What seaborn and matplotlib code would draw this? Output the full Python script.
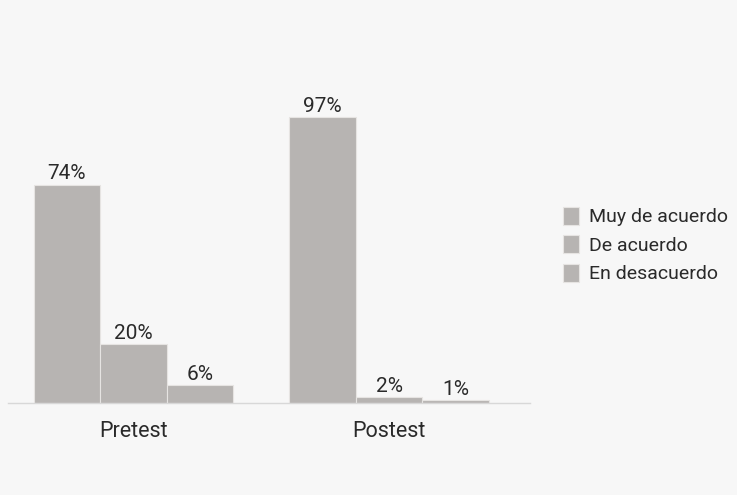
import numpy as np
import pandas as pd
import matplotlib
matplotlib.use('Agg')
import matplotlib.pyplot as plt
import seaborn as sns

# datos
grupos = ['Pretest', 'Postest']
respuestas = ['Muy de acuerdo', 'De acuerdo', 'En desacuerdo']
pretest = [74, 20, 6]
postest = [97, 2, 1]

df = pd.DataFrame({
    'grupo': ['Pretest'] * 3 + ['Postest'] * 3,
    'respuesta': respuestas * 2,
    'valor': pretest + postest,
})

sns.set_style('white')
plt.rcParams['font.family'] = ['Roboto', 'DejaVu Sans']

gris = '#b8b4b1'
fondo = '#f7f7f7'

fig = plt.figure(figsize=(7.37, 4.95), dpi=100, facecolor=fondo)
ax = fig.add_axes([0.011, 0.186, 0.708, 0.652])
ax.set_facecolor(fondo)

sns.barplot(data=df, x='grupo', y='valor', hue='respuesta', order=grupos,
            hue_order=respuestas, palette=[gris] * 3, width=0.78,
            edgecolor='#e6e4e2', linewidth=0.8, ax=ax)

for c in ax.containers:
    ax.bar_label(c, fmt='%g%%', padding=1, fontsize=15, color='#2a2a2a')

ax.set_xlim(-0.49, 1.55)
ax.set_ylim(0, 109.5)
ax.set_xlabel('')
ax.set_ylabel('')
ax.set_yticks([])
ax.tick_params(axis='x', length=0, labelsize=15.5, pad=13, colors='#2a2a2a')
for s in ['top', 'right', 'left']:
    ax.spines[s].set_visible(False)
ax.spines['bottom'].set_color('#d8d8d8')
ax.spines['bottom'].set_linewidth(1)

h, l = ax.get_legend_handles_labels()
ax.legend(h, l, loc='center left', bbox_to_anchor=(0.740, 0.505),
          bbox_transform=fig.transFigure, frameon=False, fontsize=14,
          handlelength=0.85, handleheight=1.05, handletextpad=0.5,
          labelspacing=0.45, labelcolor='#2a2a2a')

fig.savefig('out.png', dpi=100, facecolor=fondo)
